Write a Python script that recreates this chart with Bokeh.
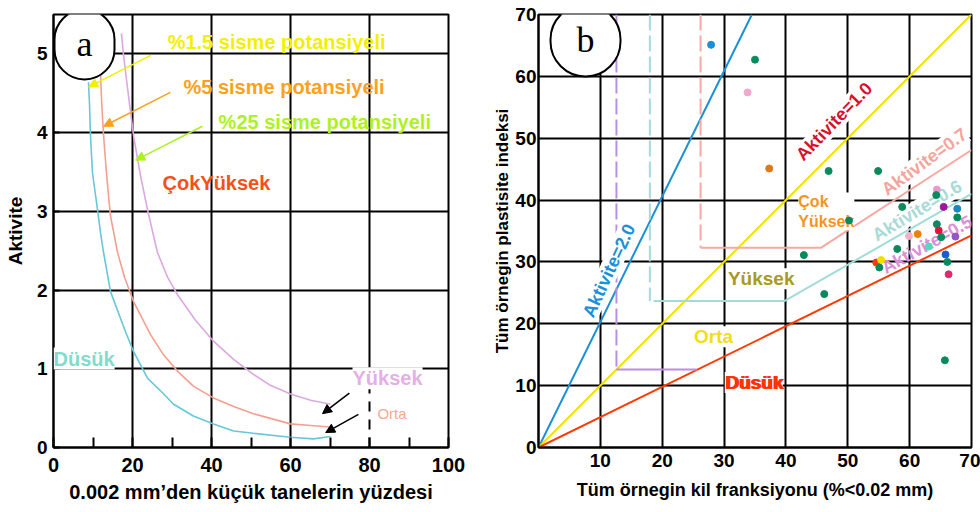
from bokeh.plotting import figure
from bokeh.models import Range1d, FixedTicker, Label, Arrow, NormalHead
from bokeh.layouts import row
from bokeh.embed import file_html
from bokeh.resources import INLINE

FONT = "Liberation Sans"

# ---------------- Panel a data ----------------
a_x_ticks = [0, 10, 20, 30, 40, 50, 60, 70, 80, 90, 100]
a_x_labels = {0: "0", 20: "20", 40: "40", 60: "60", 80: "80", 100: "100"}
a_y_ticks = [0, 1, 2, 3, 4, 5]

curve15_x = [8.86, 9.11, 9.37, 9.87, 11.14, 11.9, 12.66, 14.43, 18.23, 20.25, 23.8, 27.1,
             30.4, 35.4, 40.5, 45.6, 50.6, 60.0, 65.8, 70.1]
curve15_y = [4.64, 4.37, 3.95, 3.49, 3.02, 2.73, 2.48, 1.98, 1.47, 1.22, 0.88, 0.72,
             0.55, 0.40, 0.30, 0.21, 0.18, 0.13, 0.11, 0.14]
curve5_x = [11.9, 12.2, 12.7, 13.4, 14.4, 16.2, 18.0, 20.3, 24.6, 27.8, 31.4, 35.4, 40.5,
            45.6, 50.6, 54.9, 60.0, 65.1, 70.1]
curve5_y = [4.75, 4.37, 3.95, 3.49, 2.95, 2.48, 2.16, 1.85, 1.43, 1.18, 0.97, 0.78, 0.63,
            0.52, 0.43, 0.37, 0.30, 0.28, 0.26]
curve25_x = [17.2, 17.7, 18.7, 20.3, 22.0, 23.8, 26.3, 28.9, 31.4, 35.9, 40.5, 45.6, 50.6,
             54.9, 60.0, 65.1, 70.1]
curve25_y = [5.26, 5.00, 4.58, 3.95, 3.46, 3.02, 2.48, 2.16, 1.94, 1.62, 1.35, 1.12, 0.93,
             0.79, 0.68, 0.60, 0.55]

# ---------------- Panel b data ----------------
b_ticks = [0, 10, 20, 30, 40, 50, 60, 70]
pts_x = [27.9, 35.0, 33.8, 37.3, 46.9, 54.9, 50.2, 64.4, 64.3, 58.8, 65.5, 67.7, 67.7, 64.4, 59.9,
         61.3, 64.7, 65.1, 67.4, 58.0, 63.1, 65.8, 42.9, 54.6, 55.4, 55.1, 66.1, 66.3, 46.2, 65.7]
pts_y = [65.1, 62.7, 57.4, 45.1, 44.7, 44.7, 36.7, 41.7, 40.8, 38.9, 38.9, 38.6, 37.2, 36.1, 34.2,
         34.5, 35.1, 34.0, 34.1, 32.1, 32.5, 31.2, 31.1, 29.9, 30.3, 29.1, 30.0, 28.0, 24.8, 14.1]
pts_c = ["#1a90d8", "#0a8a5c", "#f0a8cc", "#e07818", "#0a8a5c", "#0a8a5c", "#0a8a5c", "#e89ad0",
         "#0a8a5c", "#0a8a5c", "#9a1a9a", "#1a88c0", "#0a8a5c", "#0a8a5c", "#f0b0cc", "#f08000",
         "#e0143c", "#0a8a5c", "#9058c0", "#0a8a5c", "#58d8b8", "#1a5cd0", "#0a8a5c", "#ff3a10",
         "#f0e000", "#0a8a5c", "#0a8a5c", "#e02a70", "#0a8a5c", "#0a8a5c"]

act20_x, act20_y = [0, 34.5], [0, 70]
act10_x, act10_y = [0, 70], [0, 70]
act05_x, act05_y = [0, 70], [0, 34.3]
# boundaries: dashed vertical part + solid part
b07_vx, b07_vy = [26.2, 26.2], [70, 32.3]
b07_x, b07_y = [26.2, 45.7, 70], [32.3, 32.3, 48.1]
b06_vx, b06_vy = [18.0, 18.0], [70, 23.7]
b06_x, b06_y = [18.6, 39.8, 70], [23.7, 23.7, 41.0]
b05_vx, b05_vy = [12.6, 12.6], [70, 12.6]
b05_x, b05_y = [12.6, 25.6], [12.6, 12.6]


def lab(p, x, y, text, color, size="19px", angle=0, bg=None, align="center",
        font=FONT, style="bold", xoff=0):
    l = Label(x=x, y=y, text=text, text_color=color, text_font_size=size,
              text_font=font, text_font_style=style, text_align=align,
              text_baseline="middle", angle=angle, angle_units="deg",
              background_fill_color=bg, x_offset=xoff)
    p.add_layout(l)
    return l


def style_axes(p):
    for ax in (p.xaxis[0], p.yaxis[0]):
        ax.major_label_text_font = FONT
        ax.major_label_text_font_style = "bold"
        ax.major_label_text_color = "black"
        ax.axis_label_text_font = FONT
        ax.axis_label_text_font_style = "bold"
        ax.axis_label_text_color = "black"
        ax.axis_line_color = "black"
        ax.axis_line_width = 2
        ax.major_tick_line_color = "black"
        ax.major_tick_line_width = 2
        ax.minor_tick_line_color = None
    p.outline_line_color = "black"
    p.outline_line_width = 2
    p.outline_line_alpha = 1
    p.grid.grid_line_color = "black"
    p.grid.grid_line_width = 2
    p.grid.grid_line_alpha = 1
    p.background_fill_color = "white"
    p.border_fill_color = "white"


# ================= Panel a =================
p1 = figure(width=490, height=512, x_range=Range1d(0, 100), y_range=Range1d(0, 5.5),
            output_backend="svg", toolbar_location=None,
            min_border_left=53, min_border_right=42, min_border_top=10, min_border_bottom=65)
style_axes(p1)
p1.xaxis.ticker = FixedTicker(ticks=a_x_ticks)
p1.xaxis.major_label_overrides = {t: a_x_labels.get(t, "") for t in a_x_ticks}
p1.xaxis.major_tick_in = 10
p1.xaxis.major_tick_out = 0
p1.xaxis.major_label_standoff = 10
p1.xaxis.major_label_text_font_size = "20px"
p1.xaxis.axis_label = "0.002 mm\u2019den küçük tanelerin yüzdesi"
p1.xaxis.axis_label_text_font_size = "20px"
p1.xaxis.axis_label_standoff = 6
p1.yaxis.ticker = FixedTicker(ticks=a_y_ticks)
p1.yaxis.major_tick_in = 6
p1.yaxis.major_tick_out = 0
p1.yaxis.major_label_standoff = 6
p1.yaxis.major_label_text_font_size = "19px"
p1.yaxis.axis_label = "Aktivite"
p1.yaxis.axis_label_text_font_size = "19px"
p1.yaxis.axis_label_standoff = 8
p1.xgrid.ticker = FixedTicker(ticks=[20, 40, 60])
p1.ygrid.ticker = FixedTicker(ticks=[1, 2, 3, 4, 5])

p1.segment(x0=[80], y0=[0.85], x1=[80], y1=[5.5], line_color="black", line_width=2)
p1.segment(x0=[80], y0=[0], x1=[80], y1=[0.85], line_color="black", line_width=2,
           line_dash="10 8")

p1.line(curve15_x, curve15_y, line_color="#66c8d8", line_width=1.6)
p1.line(curve5_x, curve5_y, line_color="#f4a090", line_width=1.6)
p1.line(curve25_x, curve25_y, line_color="#dca8e0", line_width=1.6)

lab(p1, 28.9, 5.15, "%1.5 sisme potansiyeli", "#f2f000", size="20px", align="left")
lab(p1, 32.9, 4.58, "%5 sisme potansiyeli", "#fca11c", size="20px", align="left")
lab(p1, 41.8, 4.14, "%25 sisme potansiyeli", "#adf21e", size="20px", align="left")
lab(p1, 27.6, 3.36, "ÇokYüksek", "#f5501c", size="20px", align="left")
lab(p1, -0.5, 1.13, "Düsük", "#80dccc", size="20px", align="left", bg="white", xoff=2)
lab(p1, 75.7, 0.88, "Yüksek", "#e4b0e4", size="20px", align="left", bg="white")
lab(p1, 82.0, 0.43, "Orta", "#f8a890", size="15px", align="left", style="normal")

for (xs, ys, xe, ye, c) in [(24.6, 4.98, 8.9, 4.58, "#f2f000"),
                            (29.6, 4.51, 12.7, 4.08, "#fca11c"),
                            (37.7, 4.08, 20.8, 3.65, "#adf21e"),
                            (74.9, 0.69, 68.1, 0.43, "black"),
                            (77.2, 0.42, 68.9, 0.19, "black")]:
    p1.add_layout(Arrow(end=NormalHead(size=9, fill_color=c, line_color=c),
                        x_start=xs, y_start=ys, x_end=xe, y_end=ye,
                        line_color=c, line_width=1.5))

ca = Label(x=7.85, y=5.12, text="a", text_font="Liberation Serif", text_font_size="36px",
           text_align="center", text_baseline="middle", text_color="black",
           background_fill_color="white", border_line_color="black", border_line_width=2,
           padding=(22, 15), border_radius=30)
p1.add_layout(ca)

# ================= Panel b =================
p2 = figure(width=490, height=512, x_range=Range1d(0, 70), y_range=Range1d(0, 70),
            output_backend="svg", toolbar_location=None,
            min_border_left=46, min_border_right=9, min_border_top=14, min_border_bottom=65)
style_axes(p2)
p2.xaxis.ticker = FixedTicker(ticks=b_ticks[1:])
p2.yaxis.ticker = FixedTicker(ticks=b_ticks)
for ax in (p2.xaxis[0], p2.yaxis[0]):
    ax.major_tick_in = 0
    ax.major_tick_out = 0
    ax.major_label_text_font_size = "19px"
    ax.axis_label_text_font_size = "18px"
p2.yaxis.axis_label_text_font_size = "17px"
p2.xaxis.major_label_standoff = 6
p2.yaxis.major_label_standoff = 2
p2.xaxis.axis_label = "Tüm örnegin kil franksiyonu (%<0.02 mm)"
p2.xaxis.axis_label_standoff = 10
p2.yaxis.axis_label = "Tüm örnegin plastisite indeksi"
p2.yaxis.axis_label_standoff = 0
p2.xgrid.ticker = FixedTicker(ticks=[10, 20, 30, 40, 50, 60])
p2.ygrid.ticker = FixedTicker(ticks=[10, 20, 30, 40, 50, 60])

p2.line(act20_x, act20_y, line_color="#1a90d8", line_width=2)
p2.line(act10_x, act10_y, line_color="#f5e000", line_width=2)
p2.line(act05_x, act05_y, line_color="#ff3a00", line_width=2)
p2.line(b07_vx, b07_vy, line_color="#f8a8a0", line_width=2, line_dash="16 5")
p2.line(b07_x, b07_y, line_color="#f8a8a0", line_width=2)
p2.line(b06_vx, b06_vy, line_color="#a0dcd8", line_width=2, line_dash="16 5")
p2.line(b06_x, b06_y, line_color="#a0dcd8", line_width=2)
p2.line(b05_vx, b05_vy, line_color="#b890e0", line_width=2, line_dash="16 5")
p2.line(b05_x, b05_y, line_color="#b890e0", line_width=2)

lab(p2, 11.4, 28.6, "Aktivite=2.0", "#1a90d8", size="18px", angle=65, bg="white")
lab(p2, 47.8, 52.7, "Aktivite=1.0", "#d8102c", size="18px", angle=46, bg="white")
lab(p2, 62.4, 46.2, "Aktivite=0.7", "#f4a49c", size="18px", angle=36, bg="white")
lab(p2, 61.2, 38.3, "Aktivite=0.6", "#a8dad6", size="18px", angle=31, bg="white")
lab(p2, 62.8, 32.8, "Aktivite=0.5", "#d890d8", size="18px", angle=29)
lab(p2, 42.0, 38.2, "Çok\nYüksek", "#f7941d", size="16px", align="left", bg="white")
lab(p2, 36.0, 27.3, "Yüksek", "#a89a1e", bg="white")
lab(p2, 28.3, 17.9, "Orta", "#f0e010", bg="white")
lab(p2, 34.8, 10.5, "Düsük", "#ff3300", bg="white")
lab(p2, 34.8, 10.5, "Düsük", "#ff3300", xoff=1.5)

p2.scatter(pts_x, pts_y, color=pts_c, size=7, level="overlay")

cb = Label(x=7.6, y=65.8, text="b", text_font="Liberation Serif", text_font_size="36px",
           text_align="center", text_baseline="middle", text_color="black",
           background_fill_color="white", border_line_color="black", border_line_width=2,
           padding=(26, 16), border_radius=35)
p2.add_layout(cb)

layout = row(p1, p2)
open("out.html", "w").write(file_html(layout, INLINE))
